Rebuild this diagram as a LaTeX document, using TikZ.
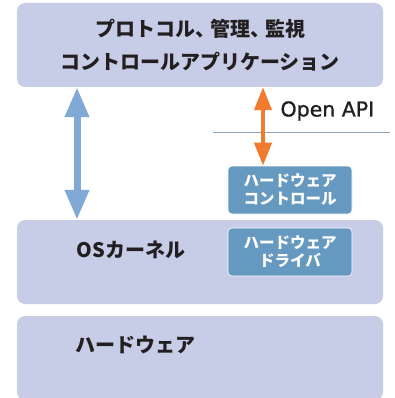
\documentclass[tikz,border=0pt]{standalone}
\usepackage{fontspec}
\newfontfamily\jpfont{Noto Sans CJK JP}
\newfontfamily\apifont{DejaVu Sans}[FakeBold = 1]
\usetikzlibrary{arrows.meta}

\definecolor{layerfill}{HTML}{C7CDE7}
\definecolor{partfill}{HTML}{6699C0}
\definecolor{linkblue}{HTML}{80A9D6}
\definecolor{apiorange}{HTML}{F07A2E}
\definecolor{apiline}{HTML}{8FA3B4}
\definecolor{labeltext}{HTML}{231F20}

\newcommand{\tenten}{、\hspace{-5pt}}

\tikzset{
    layer/.style = {rounded corners = 8pt, fill = layerfill, inner sep = 0pt},
    part/.style = {rounded corners = 4pt, fill = partfill, draw = white,
                   line width = 0.6pt, minimum width = 124pt, minimum height = 48pt,
                   align = center, text = white,
                   font = \jpfont\bfseries\fontsize{15.5}{18}\selectfont},
    bigtext/.style = {text = labeltext, font = \jpfont\bfseries\fontsize{20}{33}\selectfont},
    osarrow/.style = {draw = linkblue, line width = 7pt,
                      {Triangle[width = 23pt, length = 30pt]}-{Triangle[width = 23pt, length = 30pt]}},
    apiarrow/.style = {draw = apiorange, line width = 4pt,
                       {Triangle[width = 17pt, length = 23pt]}-{Triangle[width = 17pt, length = 23pt]}}
}

\begin{document}
\begin{tikzpicture}[x = 1pt, y = -1pt]
    \useasboundingbox (0, 0) rectangle (395, 398);

    \node [layer, bigtext, align = center, minimum width = 366pt, minimum height = 84pt]
          (app) at (200, 45)
          {プロトコル\tenten 管理\tenten 監視\\コントロールアプリケーション};

    \node [layer, minimum width = 366pt, minimum height = 84pt] (os) at (200, 262) {};
    \node [bigtext, anchor = west] (oslabel) at (73, 250) {OSカーネル};

    \node [layer, minimum width = 366pt, minimum height = 84pt] (hw) at (200, 358) {};
    \node [bigtext, anchor = west] (hwlabel) at (72, 345) {ハードウェア};

    \node [part] (hwctl) at (290, 190) {ハードウェア\\コントロール};
    \node [part] (hwdrv) at (290, 252) {ハードウェア\\ドライバ};

    \coordinate (apileft) at (213, 133);
    \coordinate (apiright) at (390, 133);
    \draw [apiline, line width = 1pt] (apileft) -- (apiright);

    \node [text = labeltext, font = \apifont\fontsize{20.5}{24}\selectfont, anchor = west]
          (api) at (277, 111) {Open API};

    \draw [osarrow] ([xshift = -123pt]app.south) -- ([xshift = -123pt]os.north); % app <-> OS
    \draw [apiarrow] ([xshift = 63pt]app.south)
          -- ([xshift = 63pt]app.south |- hwctl.north); % app <-> HW control
\end{tikzpicture}
\end{document}
